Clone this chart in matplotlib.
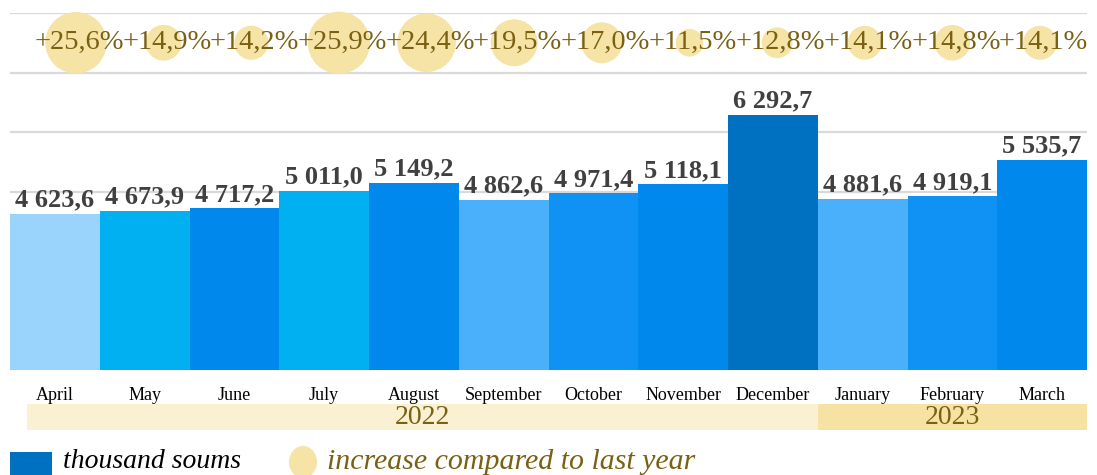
import matplotlib.pyplot as plt
from matplotlib.patches import Rectangle, Ellipse
import matplotlib.transforms as mtransforms

plt.rcParams['font.family'] = 'Liberation Serif'

# Data
months = ['April', 'May', 'June', 'July', 'August', 'September', 'October',
          'November', 'December', 'January', 'February', 'March']
values = [4623.6, 4673.9, 4717.2, 5011.0, 5149.2, 4862.6, 4971.4,
          5118.1, 6292.7, 4881.6, 4919.1, 5535.7]
growth = [25.6, 14.9, 14.2, 25.9, 24.4, 19.5, 17.0, 11.5, 12.8, 14.1, 14.8, 14.1]
years = ['2022', '2023']
year_span = [(-0.31, 8.5), (8.5, 11.5)]

bar_colors = ['#9AD3FC', '#00B0F0', '#0088EC', '#00B0F0', '#0088EC', '#4BB0FC',
              '#1092F5', '#0088EC', '#0070C0', '#4BB0FC', '#1092F5', '#0088EC']
gold = '#F6E3A6'
olive = '#7A6012'

fig = plt.figure(figsize=(10.97, 4.75), dpi=100)
rect = [10 / 1097, 105 / 475, 1077 / 1097, 357 / 475]
ax = fig.add_axes(rect)

x = list(range(len(months)))
ax.bar(x, values, width=1.0, color=bar_colors, zorder=2)

# value labels
for xi, v in zip(x, values):
    txt = f"{v:,.1f}".replace(',', ' ').replace('.', ',')
    ax.text(xi, v + 40, txt, ha='center', va='bottom', fontsize=19,
            fontweight='bold', color='#404040', zorder=3)

ax.set_xlim(-0.5, 11.5)
ax.set_ylim(2000, 8000)
ax.set_yticks(range(2000, 8001, 1000))
ax.yaxis.grid(True, color='#D9D9D9', linewidth=1.6, zorder=0)
ax.set_axisbelow(True)
ax.tick_params(axis='y', length=0, labelleft=False)
ax.set_xticks(x)
ax.set_xticklabels(months, fontsize=13)
ax.tick_params(axis='x', length=0, pad=12)
for s in ax.spines.values():
    s.set_visible(False)

# growth bubbles (own axis, slightly different x spread)
bx = fig.add_axes(rect, facecolor='none')
row_y = 7500
bx.scatter(x, [row_y] * len(x), s=[(1.73 * g) ** 2 for g in growth],
           color=gold, edgecolors='none', zorder=2, clip_on=False)
for xi, g in zip(x, growth):
    bx.text(xi + 0.04, row_y, f"+{g:.1f}%".replace('.', ','), ha='center',
            va='center', fontsize=20.5, color=olive, zorder=3)
bx.set_xlim(-0.753, 11.536)
bx.set_ylim(2000, 8000)
bx.axis('off')

# year bands
trans = mtransforms.blended_transform_factory(ax.transData, fig.transFigure)
band_colors = ['#FAF0D2', '#F6E3A3']
for (x0, x1), yr, bc, tx in zip(year_span, years, band_colors, [4.1, 10.0]):
    ax.add_patch(Rectangle((x0, 45 / 475), x1 - x0, 26 / 475, transform=trans,
                           facecolor=bc, edgecolor='none', clip_on=False))
    ax.text(tx, 57 / 475, yr, transform=trans, ha='center', va='center',
            fontsize=20, color=olive)

# legend
fig.patches.append(Rectangle((10 / 1097, 0), 42 / 1097, 23 / 475,
                             transform=fig.transFigure, facecolor='#0070C0',
                             edgecolor='none'))
fig.text(63 / 1097, 13 / 475, 'thousand soums', fontsize=20, style='italic',
         color='black', va='center', ha='left')
fig.patches.append(Ellipse((303 / 1097, 13 / 475), 28 / 1097, 32 / 475,
                           transform=fig.transFigure, facecolor=gold,
                           edgecolor='none'))
fig.text(327 / 1097, 13 / 475, 'increase compared to last year', fontsize=21.5,
         style='italic', color=olive, va='center', ha='left')

fig.savefig('out.png', dpi=100)
